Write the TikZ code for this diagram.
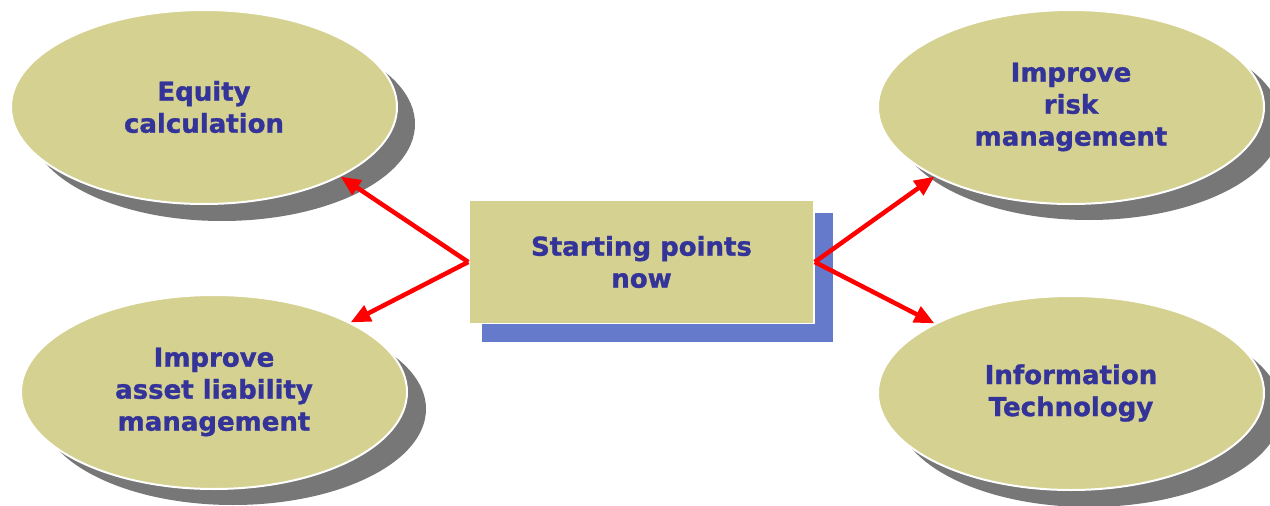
\documentclass[tikz,border=0pt]{standalone}
\usepackage{fontspec}
\setmainfont{DejaVu Sans}[BoldFeatures={FakeBold=1.2}]
\usetikzlibrary{shapes.geometric,arrows.meta}
\definecolor{tan}{HTML}{D5D190}
\definecolor{txt}{HTML}{333399}
\definecolor{shgray}{HTML}{777777}
\definecolor{shblue}{HTML}{667ACC}
\definecolor{arred}{HTML}{FF0000}
\tikzset{
  oval/.style={ellipse, fill=tan, draw=white, line width=2pt, minimum width=386pt, minimum height=194pt, inner sep=0pt, align=center, text=txt, font=\bfseries\fontsize{26}{32}\selectfont},
  centerbox/.style={rectangle, fill=tan, draw=white, line width=1.5pt, minimum width=345pt, minimum height=123pt, inner sep=0pt, align=center, text=txt, font=\bfseries\fontsize{26}{32}\selectfont},
  ovalshadow/.style={fill=shgray},
  arr/.style={draw=arred, line width=4.5pt, -{Triangle[length=20pt,width=17pt]}}
}
\begin{document}
\begin{tikzpicture}[x=1pt,y=-1pt]
\useasboundingbox (0,0) rectangle (1270,506);
% shadows
\fill[ovalshadow] (222,124) ellipse [x radius=193pt, y radius=97pt];
\fill[ovalshadow] (233,409) ellipse [x radius=193pt, y radius=96pt];
\fill[ovalshadow] (1089,123) ellipse [x radius=193pt, y radius=97pt];
\fill[ovalshadow] (1089,410) ellipse [x radius=193pt, y radius=97pt];
\fill[shblue] (482,213) rectangle (833,342);
% nodes
\node[oval] (eq) at (204,107) {Equity\\calculation};
\node[oval] (alm) at (214,392) {Improve\\asset liability\\management};
\node[oval] (risk) at (1071,107) {Improve\\risk\\management};
\node[oval] (it) at (1071,393) {Information\\Technology};
\node[centerbox] (sp) at (641.5,262) {Starting points\\now};
% connectors
\draw[arr] (sp.west) -- (eq.-27);
\draw[arr] (sp.west) -- (alm.27);
\draw[arr] (sp.east) -- (risk.-153);
\draw[arr] (sp.east) -- (it.153);
\end{tikzpicture}
\end{document}
